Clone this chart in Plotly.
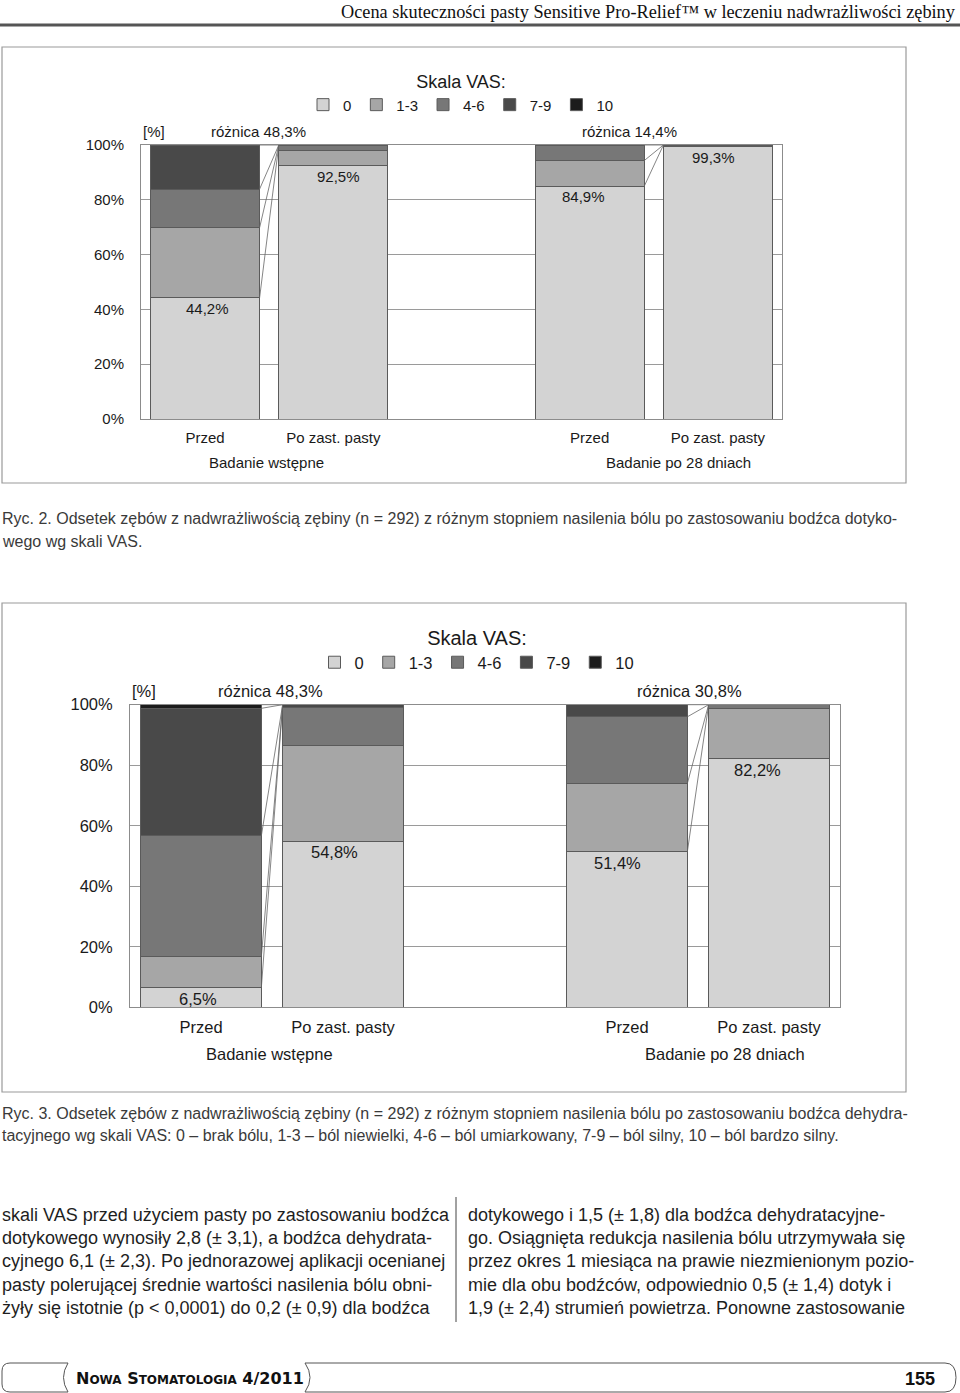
import plotly.graph_objects as go

# ---------------- data ----------------
series_names = ["0", "1-3", "4-6", "7-9", "10"]
bar_labels = ["Przed", "Po zast. pasty", "Przed", "Po zast. pasty"]
bar_slots = [0, 1, 3, 4]
group_labels = ["Badanie wstępne", "Badanie po 28 dniach"]
y_ticks = [0, 20, 40, 60, 80, 100]
y_tick_labels = ["0%", "20%", "40%", "60%", "80%", "100%"]

# Ryc. 2 – bodziec dotykowy
r2_vas0 = [44.2, 92.5, 84.9, 99.3]
r2_vas1_3 = [25.6, 5.6, 9.4, 0.4]
r2_vas4_6 = [14.1, 1.9, 5.7, 0.3]
r2_vas7_9 = [16.1, 0.0, 0.0, 0.0]
r2_vas10 = [0.0, 0.0, 0.0, 0.0]
r2_diffs = ["różnica 48,3%", "różnica 14,4%"]

# Ryc. 3 – bodziec dehydratacyjny
r3_vas0 = [6.5, 54.8, 51.4, 82.2]
r3_vas1_3 = [10.2, 31.6, 22.6, 16.6]
r3_vas4_6 = [40.0, 12.6, 22.0, 1.2]
r3_vas7_9 = [42.1, 1.0, 4.0, 0.0]
r3_vas10 = [1.2, 0.0, 0.0, 0.0]
r3_diffs = ["różnica 48,3%", "różnica 30,8%"]

header_text = "Ocena skuteczności pasty Sensitive Pro-Relief™ w leczeniu nadwrażliwości zębiny"
caption2 = ["Ryc. 2. Odsetek zębów z nadwrażliwością zębiny (n = 292) z różnym stopniem nasilenia bólu po zastosowaniu bodźca dotyko-",
            "wego wg skali VAS."]
caption3 = ["Ryc. 3. Odsetek zębów z nadwrażliwością zębiny (n = 292) z różnym stopniem nasilenia bólu po zastosowaniu bodźca dehydra-",
            "tacyjnego wg skali VAS: 0 – brak bólu, 1-3 – ból niewielki, 4-6 – ból umiarkowany, 7-9 – ból silny, 10 – ból bardzo silny."]
body_left = ["skali VAS przed użyciem pasty po zastosowaniu bodźca",
             "dotykowego wynosiły 2,8 (± 3,1), a bodźca dehydrata-",
             "cyjnego 6,1 (± 2,3). Po jednorazowej aplikacji ocenianej",
             "pasty polerującej średnie wartości nasilenia bólu obni-",
             "żyły się istotnie (p &lt; 0,0001) do 0,2 (± 0,9) dla bodźca"]
body_right = ["dotykowego i 1,5 (± 1,8) dla bodźca dehydratacyjne-",
              "go. Osiągnięta redukcja nasilenia bólu utrzymywała się",
              "przez okres 1 miesiąca na prawie niezmienionym pozio-",
              "mie dla obu bodźców, odpowiednio 0,5 (± 1,4) dotyk i",
              "1,9 (± 2,4) strumień powietrza. Ponowne zastosowanie"]
journal = "<b>N<span style='font-size:12px'>OWA</span> S<span style='font-size:12px'>TOMATOLOGIA</span> 4/2011</b>"
page_no = "155"

# ---------------- styling ----------------
colors = ["#d3d3d3", "#a6a6a6", "#777777", "#494949", "#1c1c1c"]
FONT = "Liberation Sans, Arial, Helvetica, sans-serif"
TXT = "#1a1a1a"
W, H = 960, 1393
BW = 0.85

fig = go.Figure()


def add_chart(series, xa, ya, legend, fsize, diffs, diff_x, label_shifts):
    for name, vals, col in zip(series_names, series, colors):
        fig.add_trace(go.Bar(
            x=bar_slots, y=vals, width=BW, name=name, xaxis=xa, yaxis=ya,
            marker=dict(color=col, line=dict(color="#5a5a5a", width=1)),
            legend=legend, hoverinfo="skip"))
    # connecting lines between "Przed" and "Po" bars
    lx, ly = [], []
    for gi in range(2):
        i_pre, i_post = 2 * gi, 2 * gi + 1
        total_post = sum(s[i_post] for s in series)
        cum = 0.0
        for s in series:
            if s[i_pre] <= 0:
                continue
            cum += s[i_pre]
            lx += [bar_slots[i_pre] + BW / 2, bar_slots[i_post] - BW / 2, None]
            ly += [cum, total_post, None]
    fig.add_trace(go.Scatter(x=lx, y=ly, mode="lines", xaxis=xa, yaxis=ya,
                             line=dict(color="#666666", width=0.8),
                             showlegend=False, hoverinfo="skip"))
    # value labels of VAS 0
    for sl, v, sh in zip(bar_slots, series[0], label_shifts):
        fig.add_annotation(x=sl, y=v, xref=xa, yref=ya, xshift=sh,
                           text=f"{v:.1f}%".replace(".", ","), showarrow=False,
                           yanchor="top", font=dict(size=fsize, color=TXT, family=FONT))
    # difference labels
    for dx, t in zip(diff_x, diffs):
        fig.add_annotation(x=dx, y=100, xref=xa, yref=ya, text=t, showarrow=False,
                           yanchor="bottom", yshift=3, font=dict(size=fsize, color=TXT, family=FONT))
    fig.add_annotation(x=0, y=100, xref=xa + " domain", yref=ya, text="[%]", showarrow=False,
                       xanchor="left", yanchor="bottom", yshift=3,
                       font=dict(size=fsize, color=TXT, family=FONT))
    # group labels
    for gx, t in zip([0.48, 3.69], group_labels):
        fig.add_annotation(x=gx, y=0, xref=xa, yref=ya, text=t, showarrow=False,
                           yanchor="middle", yshift=-round(fsize * 2.85),
                           font=dict(size=fsize, color=TXT, family=FONT))


add_chart([r2_vas0, r2_vas1_3, r2_vas4_6, r2_vas7_9, r2_vas10], "x", "y", "legend", 15,
          r2_diffs, [0.417, 3.31], [2, 5, -6, -4])
add_chart([r3_vas0, r3_vas1_3, r3_vas4_6, r3_vas7_9, r3_vas10], "x2", "y2", "legend2", 16.5,
          r3_diffs, [0.486, 3.44], [-3, -9, -10, -12])


def px_x(v):
    return v / W


def px_y(v):
    return 1 - v / H


axis_common = dict(showline=True, mirror=True, linecolor="#8c8c8c", linewidth=1, zeroline=False,
                   ticks="", fixedrange=True, automargin=False)

fig.update_layout(
    width=W, height=H, margin=dict(l=0, r=0, t=0, b=0, pad=0, autoexpand=False),
    paper_bgcolor="white", plot_bgcolor="rgba(0,0,0,0)",
    barmode="stack", showlegend=True,
    font=dict(family=FONT, color=TXT),
    xaxis=dict(domain=[px_x(141), px_x(782)], range=[-0.5, 4.5], anchor="y",
               tickvals=bar_slots, ticktext=bar_labels, showgrid=False,
               tickfont=dict(size=15, color=TXT), ticklabelstandoff=5, **axis_common),
    yaxis=dict(domain=[px_y(419), px_y(145)], range=[0, 100], anchor="x",
               tickvals=y_ticks, ticktext=y_tick_labels, showgrid=True, gridcolor="#9a9a9a", gridwidth=1,
               tickfont=dict(size=15, color=TXT), ticklabelstandoff=13, **axis_common),
    xaxis2=dict(domain=[px_x(130), px_x(840)], range=[-0.5, 4.5], anchor="y2",
                tickvals=bar_slots, ticktext=bar_labels, showgrid=False,
                tickfont=dict(size=16.5, color=TXT), ticklabelstandoff=5, **axis_common),
    yaxis2=dict(domain=[px_y(1007.3), px_y(704.7)], range=[0, 100], anchor="x2",
                tickvals=y_ticks, ticktext=y_tick_labels, showgrid=True, gridcolor="#9a9a9a", gridwidth=1,
                tickfont=dict(size=16.5, color=TXT), ticklabelstandoff=13, **axis_common),
    xaxis3=dict(domain=[0, 1], range=[0, W], visible=False, anchor="y3", fixedrange=True),
    yaxis3=dict(domain=[0, 1], range=[H, 0], visible=False, anchor="x3", fixedrange=True),
    legend=dict(orientation="h", x=px_x(461), xanchor="center", y=px_y(65), yanchor="top",
                traceorder="normal", title=dict(text="Skala VAS:", side="top center"),
                font=dict(size=15, color=TXT), bgcolor="rgba(0,0,0,0)"),
    legend2=dict(orientation="h", x=px_x(477), xanchor="center", y=px_y(619), yanchor="top",
                 traceorder="normal", title=dict(text="Skala VAS:", side="top center"),
                 font=dict(size=16.5, color=TXT), bgcolor="rgba(0,0,0,0)"),
)

# ---------------- page decoration (pixel coordinates on hidden axes) ----------------
deco = dict(xref="x3", yref="y3")
shapes = [
    dict(type="line", x0=0, x1=W, y0=25, y1=25, line=dict(color="#555555", width=3), **deco),
    dict(type="rect", x0=2, x1=906, y0=47, y1=483, line=dict(color="#9a9a9a", width=1.2), **deco),
    dict(type="rect", x0=2, x1=906, y0=603, y1=1092, line=dict(color="#9a9a9a", width=1.2), **deco),
    dict(type="line", x0=456, x1=456, y0=1197, y1=1322, line=dict(color="#444444", width=1), **deco),
    dict(type="path", path="M 68 1363 L 10 1363 Q 2 1363 2 1371 L 2 1384 Q 2 1392 10 1392 L 68 1392 Q 59 1377.5 68 1363 Z",
         line=dict(color="#555555", width=1), **deco),
    dict(type="path", path="M 305 1363 Q 315 1377.5 305 1392 L 945 1392 Q 956 1392 956 1377.5 Q 956 1363 945 1363 Z",
         line=dict(color="#555555", width=1), **deco),
]
for s in shapes:
    fig.add_shape(**s)


def txt(x, y, t, size, color="#222222", family=FONT, xanchor="left"):
    fig.add_annotation(x=x, y=y, text=t, showarrow=False, xanchor=xanchor, yanchor="middle",
                       font=dict(size=size, color=color, family=family), **deco)


txt(958, 12, header_text, 18.3, "#111111", "Liberation Serif, Times New Roman, serif", "right")
for i, line in enumerate(caption2):
    txt(0, 518 + 23 * i, line, 16, "#3a3a3a")
for i, line in enumerate(caption3):
    txt(0, 1113 + 22.5 * i, line, 16, "#3a3a3a")
for i, line in enumerate(body_left):
    txt(0, 1215 + 23.2 * i, line, 18, "#1e1e1e")
for i, line in enumerate(body_right):
    txt(466, 1215 + 23.2 * i, line, 18, "#1e1e1e")
txt(74, 1378, journal, 16, "#111111", "DejaVu Sans, Verdana, sans-serif")
txt(937, 1379, "<b>" + page_no + "</b>", 18, "#111111", FONT, "right")

post = ("document.documentElement.style.margin='0';document.body.style.margin='0';"
        "document.body.style.padding='0';document.body.style.overflow='hidden';"
        "var gd=document.getElementById('{plot_id}');gd.style.position='absolute';"
        "gd.style.left='0px';gd.style.top='0px';")
fig.write_html("out.html", post_script=post,
               config={"displayModeBar": False, "responsive": False, "staticPlot": True})
